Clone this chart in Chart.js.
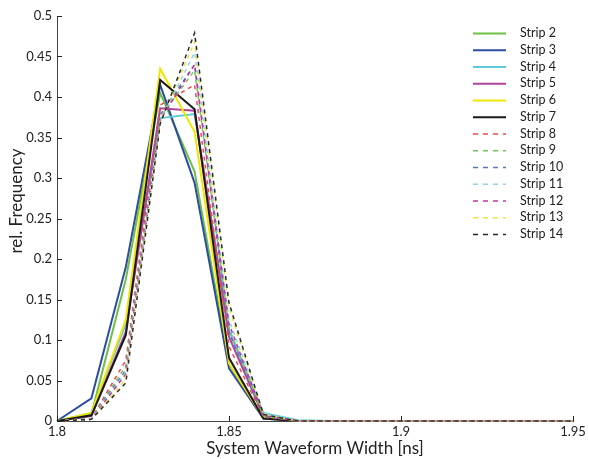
<!DOCTYPE html>
<html>
<head>
<meta charset="utf-8">
<script src="https://cdn.jsdelivr.net/npm/chart.js@4.4.1/dist/chart.umd.min.js"></script>
<style>
  html, body { margin: 0; padding: 0; background: #fff; }
</style>
</head>
<body>
<canvas id="c" width="589" height="459"></canvas>
<script>
// x values (ns)
const widths = [1.80, 1.81, 1.82, 1.83, 1.84, 1.85, 1.86, 1.87, 1.88, 1.89, 1.90, 1.91, 1.92, 1.93, 1.94, 1.95];

const strip2 = [0, 0.008, 0.175, 0.405, 0.308, 0.070, 0.004, 0, 0, 0, 0, 0, 0, 0, 0, 0];
const strip3 = [0, 0.028, 0.190, 0.415, 0.294, 0.065, 0.003, 0, 0, 0, 0, 0, 0, 0, 0, 0];
const strip4 = [0, 0.010, 0.120, 0.374, 0.379, 0.112, 0.010, 0.001, 0, 0, 0, 0, 0, 0, 0, 0];
const strip5 = [0, 0.006, 0.110, 0.386, 0.383, 0.104, 0.006, 0, 0, 0, 0, 0, 0, 0, 0, 0];
const strip6 = [0, 0.010, 0.125, 0.435, 0.357, 0.071, 0.004, 0, 0, 0, 0, 0, 0, 0, 0, 0];
const strip7 = [0, 0.007, 0.106, 0.421, 0.385, 0.078, 0.003, 0, 0, 0, 0, 0, 0, 0, 0, 0];
const strip8 = [0, 0.003, 0.075, 0.390, 0.415, 0.092, 0.005, 0, 0, 0, 0, 0, 0, 0, 0, 0];
const strip9 = [0, 0.003, 0.068, 0.375, 0.433, 0.115, 0.006, 0, 0, 0, 0, 0, 0, 0, 0, 0];
const strip10 = [0, 0.003, 0.063, 0.378, 0.440, 0.110, 0.006, 0, 0, 0, 0, 0, 0, 0, 0, 0];
const strip11 = [0, 0.003, 0.060, 0.370, 0.455, 0.125, 0.010, 0, 0, 0, 0, 0, 0, 0, 0, 0];
const strip12 = [0, 0.002, 0.058, 0.372, 0.440, 0.120, 0.007, 0, 0, 0, 0, 0, 0, 0, 0, 0];
const strip13 = [0, 0.002, 0.052, 0.370, 0.468, 0.140, 0.008, 0, 0, 0, 0, 0, 0, 0, 0, 0];
const strip14 = [0, 0.002, 0.047, 0.367, 0.479, 0.146, 0.008, 0, 0, 0, 0, 0, 0, 0, 0, 0];

const stripNames = ["Strip 2", "Strip 3", "Strip 4", "Strip 5", "Strip 6", "Strip 7", "Strip 8",
  "Strip 9", "Strip 10", "Strip 11", "Strip 12", "Strip 13", "Strip 14"];
const stripValues = [strip2, strip3, strip4, strip5, strip6, strip7, strip8,
  strip9, strip10, strip11, strip12, strip13, strip14];

// 색상 / 선 스타일
const colors = ["#6dbf45", "#2d4ea0", "#5cc9dc", "#b0449b", "#f2e600", "#1a1a1a", "#f0484a",
  "#72c45a", "#5a74bd", "#90d6e6", "#c0389e", "#ece24a", "#2a2a2a"];
const FONT = "Lato, 'Open Sans', sans-serif";

const datasets = stripNames.map((name, i) => {
  const dashed = i >= 6;
  return {
    label: name,
    data: widths.map((w, k) => ({ x: w, y: stripValues[i][k] })),
    borderColor: colors[i],
    backgroundColor: colors[i],
    borderWidth: dashed ? 1.5 : 2,
    borderDash: dashed ? [4, 4] : [],
    pointRadius: 0,
    tension: 0,
    fill: false,
    clip: false,
    order: stripNames.length - i,
  };
});

// 안쪽 눈금 + y축 제목 + 범례
const extras = {
  id: "extras",
  afterDraw(chart) {
    const { ctx, chartArea, scales } = chart;
    ctx.save();
    ctx.strokeStyle = "#222";
    ctx.lineWidth = 1;
    ctx.beginPath();
    scales.x.ticks.forEach((t) => {
      const px = Math.round(scales.x.getPixelForValue(t.value)) + 0.5;
      ctx.moveTo(px, chartArea.bottom);
      ctx.lineTo(px, chartArea.bottom - 5);
    });
    scales.y.ticks.forEach((t) => {
      const py = Math.round(scales.y.getPixelForValue(t.value)) + 0.5;
      ctx.moveTo(chartArea.left, py);
      ctx.lineTo(chartArea.left + 5, py);
    });
    ctx.stroke();

    // y title
    ctx.save();
    ctx.translate(17, 201);
    ctx.rotate(-Math.PI / 2);
    ctx.font = "17px " + FONT;
    ctx.fillStyle = "#222";
    ctx.textAlign = "center";
    ctx.textBaseline = "middle";
    ctx.fillText("rel. Frequency", 0, 0);
    ctx.restore();

    // legend
    const x0 = 473, x1 = 506, tx = 520;
    let y = 33;
    ctx.font = "12.5px " + FONT;
    ctx.textBaseline = "middle";
    chart.data.datasets.forEach((ds) => {
      ctx.beginPath();
      ctx.strokeStyle = ds.borderColor;
      ctx.lineWidth = ds.borderDash.length ? 1.5 : 2;
      ctx.setLineDash(ds.borderDash.length ? [5, 5] : []);
      ctx.moveTo(x0, y + 0.5);
      ctx.lineTo(x1, y + 0.5);
      ctx.stroke();
      ctx.setLineDash([]);
      ctx.fillStyle = "#222";
      ctx.fillText(ds.label, tx, y);
      y += 16.75;
    });
    ctx.restore();
  },
};

new Chart(document.getElementById("c").getContext("2d"), {
  type: "line",
  data: { datasets },
  options: {
    responsive: false,
    animation: false,
    devicePixelRatio: 1,
    layout: { padding: { left: 0, right: 16, top: 16, bottom: 0 } },
    plugins: { legend: { display: false }, tooltip: { enabled: false } },
    scales: {
      x: {
        type: "linear",
        min: 1.8,
        max: 1.95,
        afterFit: (s) => { s.height = 38; },
        grid: { display: false, drawTicks: false },
        border: { color: "#444", width: 1 },
        ticks: {
          stepSize: 0.05,
          padding: 3,
          color: "#222",
          font: { family: FONT, size: 13 },
          callback: (v) => String(Number(v.toFixed(2))),
        },
        title: {
          display: true,
          text: "System Waveform Width [ns]",
          color: "#222",
          font: { family: FONT, size: 17 },
          padding: { top: 0, bottom: 0 },
        },
      },
      y: {
        min: 0,
        max: 0.5,
        afterFit: (s) => { s.width = 57; },
        grid: { display: false, drawTicks: false },
        border: { color: "#444", width: 1 },
        ticks: {
          stepSize: 0.05,
          padding: 5,
          color: "#222",
          font: { family: FONT, size: 13 },
          callback: (v) => String(Number(v.toFixed(2))),
        },
        title: { display: false },
      },
    },
  },
  plugins: [extras],
});
</script>
</body>
</html>
